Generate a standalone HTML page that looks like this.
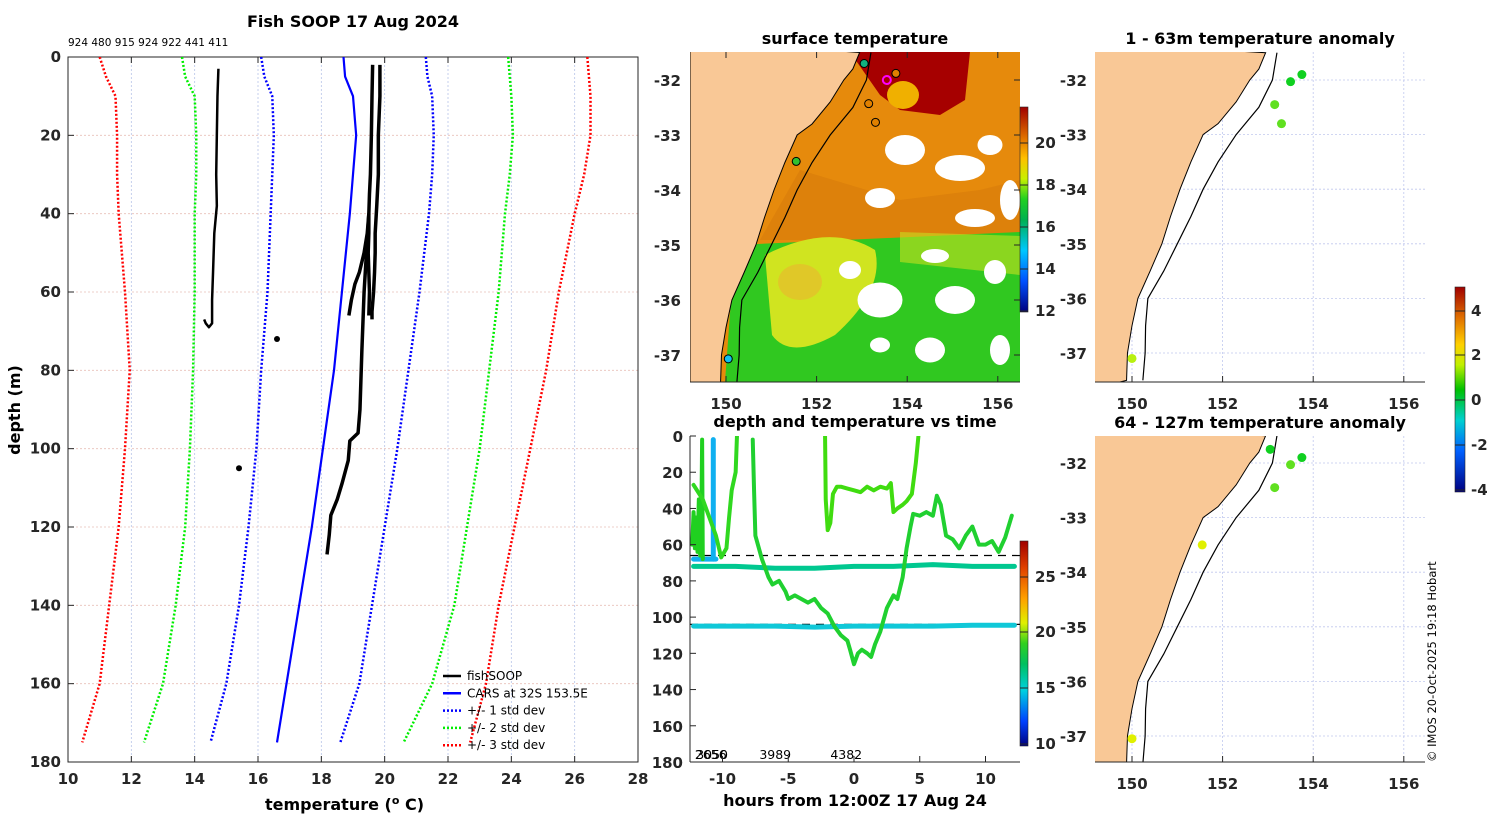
<!DOCTYPE html>
<html><head><meta charset="utf-8"><style>
body{margin:0;background:#fff;}
svg{display:block;font-family:"DejaVu Sans","Liberation Sans",sans-serif;}
.t{font-weight:bold;font-size:16px;fill:#000}
.tk{font-weight:bold;font-size:15px;fill:#262626}
.lg{font-size:12px;fill:#000}
</style></head><body>
<svg id="fig" width="1500" height="820" viewBox="0 0 1500 820">
<defs>
<clipPath id="cpL"><rect x="68" y="57" width="570" height="705"/></clipPath>
<clipPath id="cpM"><rect x="690" y="52" width="330" height="330"/></clipPath>
<clipPath id="cpT"><rect x="690" y="436" width="330" height="326"/></clipPath>
<clipPath id="cpR1"><rect x="1095" y="52" width="330" height="330"/></clipPath>
<clipPath id="cpR2"><rect x="1095" y="436" width="330" height="326"/></clipPath>
<linearGradient id="cbSST" x1="0" y1="1" x2="0" y2="0">
<stop offset="0" stop-color="#00007f"/><stop offset="0.15" stop-color="#0050ff"/><stop offset="0.3" stop-color="#00c8ff"/><stop offset="0.45" stop-color="#00b050"/><stop offset="0.55" stop-color="#20d020"/><stop offset="0.65" stop-color="#c8f000"/><stop offset="0.75" stop-color="#ffc000"/><stop offset="0.85" stop-color="#e07000"/><stop offset="1" stop-color="#a00000"/></linearGradient>
<linearGradient id="cbT" x1="0" y1="1" x2="0" y2="0">
<stop offset="0" stop-color="#00007f"/><stop offset="0.12" stop-color="#0040ff"/><stop offset="0.27" stop-color="#00d0e0"/><stop offset="0.4" stop-color="#00c060"/><stop offset="0.5" stop-color="#30d020"/><stop offset="0.6" stop-color="#e0f000"/><stop offset="0.72" stop-color="#ffa000"/><stop offset="0.87" stop-color="#e04000"/><stop offset="1" stop-color="#a00000"/></linearGradient>
<linearGradient id="cbA" x1="0" y1="1" x2="0" y2="0">
<stop offset="0" stop-color="#00007f"/><stop offset="0.2" stop-color="#0060ff"/><stop offset="0.35" stop-color="#00d0d0"/><stop offset="0.5" stop-color="#00c000"/><stop offset="0.62" stop-color="#c0f000"/><stop offset="0.72" stop-color="#ffd000"/><stop offset="0.85" stop-color="#e07000"/><stop offset="1" stop-color="#a00000"/></linearGradient>
</defs>
<g id="root"></g>
</svg>
<script>
// ---------- profile chart data ----------
const depthLevels=[0,5,10,20,30,40,60,80,100,120,140,160,175];
const carsT=[18.7,18.75,19.0,19.1,19.0,18.9,18.65,18.4,18.05,17.7,17.3,16.9,16.6];
const sd1Lo=[16.1,16.2,16.45,16.5,16.45,16.4,16.3,16.1,15.95,15.7,15.4,15.0,14.5];
const sd1Hi=[21.3,21.35,21.5,21.55,21.5,21.4,21.1,20.75,20.4,20.0,19.6,19.2,18.6];
const sd2Lo=[13.6,13.7,14.0,14.05,14.05,14.0,14.0,13.95,13.85,13.7,13.4,13.0,12.4];
const sd2Hi=[23.9,23.95,24.0,24.05,23.95,23.8,23.6,23.3,23.0,22.6,22.2,21.5,20.6];
const sd3Lo=[11.0,11.2,11.5,11.55,11.55,11.6,11.8,11.95,11.8,11.6,11.3,11.0,10.45];
const sd3Hi=[26.4,26.45,26.5,26.5,26.3,26.0,25.5,25.1,24.6,24.1,23.6,23.2,22.7];
const xTicksL=[10,12,14,16,18,20,22,24,26,28];
const yTicksL=[0,20,40,60,80,100,120,140,160,180];
const prof1D=[3,10,20,30,38,45,55,62,68,69,68,67];
const prof1T=[14.75,14.72,14.7,14.68,14.7,14.62,14.58,14.55,14.55,14.45,14.35,14.3];
const prof2D=[2,10,20,30,35,40,45,50,55,60,66];
const prof2T=[19.62,19.6,19.58,19.55,19.52,19.5,19.5,19.48,19.5,19.52,19.5];
const prof3D=[2,10,20,30,38,45,50,55,60,65,67];
const prof3T=[19.85,19.85,19.8,19.8,19.75,19.7,19.7,19.68,19.65,19.6,19.6];
const prof4D=[40,45,50,55,58,62,66];
const prof4T=[19.5,19.45,19.35,19.2,19.06,18.95,18.87];
const prof5D=[40,60,75,90,96,98,103,109,113,117,122,127];
const prof5T=[19.5,19.35,19.28,19.22,19.16,18.9,18.85,18.65,18.5,18.3,18.25,18.18];
// ---------- time-depth data ----------
const xTicksT=[-10,-5,0,5,10];
const yTicksT=[0,20,40,60,80,100,120,140,160,180];
const trAh=[-7.7,-7.6,-7.5,-7,-6.5,-6.2,-5.7,-5.2,-5,-4.5,-4,-3.5,-3,-2.5,-2,-1.5,-1,-0.5,-0.3,0,0.3,0.6,1,1.3,1.6,2,2.5,3,3.3,3.7,4,4.3,4.5,5,5.5,6,6.3,6.6,7,7.5,8,8.5,9,9.5,10,10.5,11,11.5,12];
const trAd=[2,30,55,68,78,82,80,86,90,88,90,92,90,95,98,105,110,113,118,126,120,118,120,122,115,108,95,88,90,78,62,50,43,44,42,44,33,38,55,57,62,55,50,60,60,58,64,56,44];
const trBh=[-2.2,-2.15,-2.0,-1.8,-1.6,-1.3,-1,-0.5,0,0.5,1,1.5,2,2.5,2.8,3,3.3,3.7,4,4.4,4.7,4.9];
const trBd=[0,35,52,48,32,28,28,29,30,31,28,30,28,29,26,42,40,38,36,32,15,0];
const trCh=[-12.3,-12.2,-12.1,-12.0,-11.9,-11.8,-11.7,-11.6,-11.55,-11.5];
const trCd=[60,42,62,45,64,35,66,40,2,68];
const trDh=[-12.2,-11.5,-11,-10.5,-10.1,-9.7,-9.5,-9.3,-9.0,-8.9];
const trDd=[27,35,45,55,67,62,45,30,20,0];
const teal1D=[72,72,73,73,72,72,71,72,72];
const teal1H=[-12.2,-9,-6,-3,0,3,6,9,12.2];
const teal2D=[105,105,105,105.5,105,105,105,104.5,104.5];
const castLabels=["2656","3050","3989","4382"];
const castHours=[-12.1,-12.0,-7.2,-1.8];
// ---------- anomaly maps ----------
const anomLon1=[153.75,153.5,153.15,153.3,150.0];
const anomLat1=[-31.9,-32.03,-32.45,-32.8,-37.1];
const anomVal1=[0.2,0.3,0.9,0.8,1.6];
const anomLon2=[153.05,153.75,153.5,153.15,151.55,150.0];
const anomLat2=[-31.75,-31.9,-32.03,-32.45,-33.5,-37.05];
const anomVal2=[0.2,0.2,0.5,0.6,2.2,2.0];
const sstLon=[153.05,153.75,153.15,153.3,151.55,150.05];
const sstLat=[-31.7,-31.88,-32.43,-32.77,-33.48,-37.07];
const sstVal=[16.0,21.5,21.5,21.5,17.0,14.8];
const coastLon=[152.95,152.8,152.6,152.3,151.9,151.57,151.3,151.06,150.85,150.66,150.4,150.13,150.0,149.9,149.88];
const coastLat=[-31.5,-31.8,-32.0,-32.4,-32.8,-33.0,-33.5,-34.0,-34.5,-35.0,-35.5,-36.0,-36.5,-37.0,-37.5];
const isoLon=[153.2,153.1,152.8,152.3,151.9,151.57,151.3,151.0,150.7,150.35,150.3,150.29,150.24];
const isoLat=[-31.5,-32.0,-32.5,-33.0,-33.5,-34.0,-34.5,-35.0,-35.5,-36.0,-36.5,-37.0,-37.5];
const lonTicks=[150,152,154,156];
const latTicks=[-32,-33,-34,-35,-36,-37];

const NS="http://www.w3.org/2000/svg";
const root=document.getElementById('root');
function el(tag,attrs,parent){const e=document.createElementNS(NS,tag);for(const k in attrs)e.setAttribute(k,attrs[k]);(parent||root).appendChild(e);return e;}
function txt(s,x,y,cls,anchor,parent){const e=el('text',{x:x,y:y,class:cls,'text-anchor':anchor||'middle'},parent);e.textContent=s;return e;}

// ---- left profile axes
const lx=t=>68+(t-10)*570/18, ly=d=>57+d*705/180;
const gL=el('g',{});


xTicksL.forEach(t=>{el('line',{x1:lx(t),x2:lx(t),y1:57,y2:762,stroke:'#b8c4e8','stroke-width':0.8,'stroke-dasharray':'2,2'},gL);el('line',{x1:lx(t),x2:lx(t),y1:762,y2:756,stroke:'#262626'},gL);el('line',{x1:lx(t),x2:lx(t),y1:57,y2:63,stroke:'#262626'},gL);const e=txt(String(t),lx(t),784,'tk','middle',gL);});
yTicksL.forEach(d=>{el('line',{x1:68,x2:638,y1:ly(d),y2:ly(d),stroke:'#e8c0b8','stroke-width':0.8,'stroke-dasharray':'2,2'},gL);el('line',{x1:68,x2:74,y1:ly(d),y2:ly(d),stroke:'#262626'},gL);const e=txt(String(d),61,ly(d)+5,'tk','end',gL);});
el('rect',{x:68,y:57,width:570,height:705,fill:'none',stroke:'#262626','stroke-width':1},gL);
function profLine(T,D,col,dash,w,name){const p=el('polyline',{points:T.map((t,i)=>lx(t)+','+ly(D[i])).join(' '),fill:'none',stroke:col,'stroke-width':w,'stroke-dasharray':dash||'none','stroke-linejoin':'round','clip-path':'url(#cpL)'},gL);}
profLine(sd3Lo,depthLevels,'#ff0000','2,2',2.5,'sd3-low-line');
profLine(sd3Hi,depthLevels,'#ff0000','2,2',2.5,'sd3-high-line');
profLine(sd2Lo,depthLevels,'#00ee00','2,2',2.5,'sd2-low-line');
profLine(sd2Hi,depthLevels,'#00ee00','2,2',2.5,'sd2-high-line');
profLine(sd1Lo,depthLevels,'#0000ff','2,2',2.5,'sd1-low-line');
profLine(sd1Hi,depthLevels,'#0000ff','2,2',2.5,'sd1-high-line');
profLine(carsT,depthLevels,'#0000ff',null,2.2,'cars-profile');
profLine(prof1T,prof1D,'#000',null,2.5,'fishsoop-profile-1');
profLine(prof2T,prof2D,'#000',null,3.5,'fishsoop-profile-2');
profLine(prof3T,prof3D,'#000',null,3.5,'fishsoop-profile-3');
profLine(prof4T,prof4D,'#000',null,3.5,'fishsoop-profile-4');
profLine(prof5T,prof5D,'#000',null,3.5,'fishsoop-profile-5');
[[16.6,72],[15.4,105]].forEach(p=>{const c=el('circle',{cx:lx(p[0]),cy:ly(p[1]),r:3,fill:'#000'},gL);});
let e;
e=txt('Fish SOOP 17 Aug 2024',353,27,'t','middle');
e=el('text',{x:68,y:46,'font-size':'10.5','fill':'#000'});e.textContent='924 480 915 924 922 441 411';
e=el('text',{x:265,y:810,class:'t'});
e.innerHTML='temperature (<tspan font-size="11" dy="-6">o</tspan><tspan dy="6"> C)</tspan>';
e=el('text',{x:20,y:410,class:'t','text-anchor':'middle',transform:'rotate(-90 20 410)'});e.textContent='depth (m)';
const legItems=[['fishSOOP','#000',null],['CARS at 32S 153.5E','#0000ff',null],['+/- 1 std dev','#0000ff','2,2'],['+/- 2 std dev','#00ee00','2,2'],['+/- 3 std dev','#ff0000','2,2']];
legItems.forEach((it,i)=>{const g=el('g',{},gL);const y=676+i*17.3;el('line',{x1:443,x2:461,y1:y,y2:y,stroke:it[1],'stroke-width':2.5,'stroke-dasharray':it[2]||'none'},g);txt(it[0],467,y+4,'lg','start',g);});

// ---- SST map
const mx=l=>726+(l-150)*45.3, my=a=>80+(-32-a)*55;
const gM=el('g',{});


const cM=el('g',{'clip-path':'url(#cpM)'},gM);
el('rect',{x:690,y:52,width:330,height:330,fill:'#e68a0c'},cM);
el('path',{d:'M850 52 L970 52 L965 100 L940 115 L900 110 L880 95 Z',fill:'#a60000'},cM);
el('ellipse',{cx:903,cy:95,rx:16,ry:14,fill:'#f0b000'},cM);
el('path',{d:'M800 170 L900 200 L980 190 L1020 180 L1020 240 L760 240 Z',fill:'#d4780a',opacity:0.5},cM);
el('path',{d:'M735 245 L1020 232 L1020 382 L725 382 Z',fill:'#30c820'},cM);
el('path',{d:'M765 255 Q830 222 875 250 Q885 290 835 335 Q790 360 772 335 Z',fill:'#d0e420'},cM);
el('ellipse',{cx:800,cy:282,rx:22,ry:18,fill:'#e0c828'},cM);
el('path',{d:'M900 232 L1020 236 L1020 275 L900 262 Z',fill:'#c8e020',opacity:0.6},cM);
[[905,150,40,30],[960,168,50,26],[990,145,25,20],[880,198,30,20],[975,218,40,18],[935,256,28,14],[880,300,45,35],[955,300,40,28],[995,272,22,24],[930,350,30,25],[1000,350,20,30],[850,270,22,18],[880,345,20,15],[1010,200,20,40]].forEach(r=>{const p=el('ellipse',{cx:r[0],cy:r[1],rx:r[2]/2,ry:r[3]/2,fill:'#fff'},cM);});
const landM='M690 40 '+coastLon.map((l,i)=>'L'+mx(l)+' '+my(coastLat[i])).join(' ')+' L690 400 Z';
e=el('path',{d:landM,fill:'#f9c896',stroke:'#000','stroke-width':1},cM);
e=el('polyline',{points:isoLon.map((l,i)=>mx(l)+','+my(isoLat[i])).join(' '),fill:'none',stroke:'#000','stroke-width':1.2},cM);
const sstCol=v=>v<15?'#10c0f0':v<17?'#10b080':v<19?'#30c030':'#e08000';
sstLon.forEach((l,i)=>{const c=el('circle',{cx:mx(l),cy:my(sstLat[i]),r:4,fill:sstCol(sstVal[i]),stroke:'#000','stroke-width':1},cM);});
e=el('circle',{cx:mx(153.55),cy:my(-32.0),r:4,fill:'none',stroke:'#ff00ff','stroke-width':2},cM);
lonTicks.forEach(l=>{el('line',{x1:mx(l),x2:mx(l),y1:382,y2:376,stroke:'#262626'},gM);el('line',{x1:mx(l),x2:mx(l),y1:52,y2:58,stroke:'#262626'},gM);const t=txt(String(l),mx(l),409,'tk','middle',gM);});
latTicks.forEach(a=>{el('line',{x1:1020,x2:1014,y1:my(a),y2:my(a),stroke:'#262626'},gM);const t=txt(String(a),681,my(a)+6,'tk','end',gM);});
el('line',{x1:690,x2:1020,y1:382,y2:382,stroke:'#262626'},gM);
e=txt('surface temperature',855,44,'t','middle');
e=el('rect',{x:1020,y:107,width:8,height:205,fill:'url(#cbSST)',stroke:'#262626','stroke-width':0.6});
[[20,143],[18,185],[16,227],[14,269],[12,311]].forEach(p=>{el('line',{x1:1020,x2:1028,y1:p[1],y2:p[1],stroke:'#262626'});const t=txt(String(p[0]),1035,p[1]+5,'tk','start');});

// ---- time-depth panel
const tx=h=>854+h*13.15, ty=d=>436+d*326/180;
const gT=el('g',{});


const cT=el('g',{'clip-path':'url(#cpT)'},gT);
[66,104].forEach(d=>{const l=el('line',{x1:690,x2:1020,y1:ty(d),y2:ty(d),stroke:'#000','stroke-width':1.2,'stroke-dasharray':'8,6'},cT);});
function tLine(H,D,col,w,name){const p=el('polyline',{points:H.map((h,i)=>tx(h)+','+ty(D[i])).join(' '),fill:'none',stroke:col,'stroke-width':w,'stroke-linejoin':'round','stroke-linecap':'round'},cT);}
tLine(teal1H,teal1D,'#00c890',5,'trace-72m');
tLine(teal1H,teal2D,'#10c8d8',5,'trace-104m');
tLine([-12.2,-10.5],[68,68],'#10b0f0',5,'trace-short-68m');
tLine([-10.7,-10.7],[2,68],'#10b0f0',5,'trace-cyan-vertical');
tLine(trCh,trCd,'#20d020',4,'trace-c');
tLine(trDh,trDd,'#30d820',4,'trace-d');
tLine(trAh,trAd,'#20d030',4,'trace-a');
tLine(trBh,trBd,'#40dc10',4,'trace-b');
castLabels.forEach((s,i)=>{const t=el('text',{x:tx(castHours[i]),y:759,'font-size':'12.5',fill:'#000'},gT);t.textContent=s;});
el('line',{x1:690,x2:690,y1:436,y2:762,stroke:'#262626'},gT);
el('line',{x1:690,x2:1020,y1:762,y2:762,stroke:'#262626'},gT);
xTicksT.forEach(h=>{el('line',{x1:tx(h),x2:tx(h),y1:762,y2:756,stroke:'#262626'},gT);const t=txt(String(h),tx(h),784,'tk','middle',gT);});
yTicksT.forEach(d=>{el('line',{x1:690,x2:696,y1:ty(d),y2:ty(d),stroke:'#262626'},gT);const t=txt(String(d),683,ty(d)+6,'tk','end',gT);});
e=txt('depth and temperature vs time',855,427,'t','middle');
e=txt('hours from 12:00Z 17 Aug 24',855,806,'t','middle');
e=el('rect',{x:1020,y:541,width:8,height:205,fill:'url(#cbT)',stroke:'#262626','stroke-width':0.6});
[[25,577],[20,632],[15,688],[10,744]].forEach(p=>{el('line',{x1:1020,x2:1028,y1:p[1],y2:p[1],stroke:'#262626'});const t=txt(String(p[0]),1035,p[1]+5,'tk','start');});

// ---- anomaly maps
const anomCol=v=>v<0.4?'#10d020':v<1.0?'#60e020':v<1.8?'#b8f010':'#e0f000';
function anomMap(y0,latY,lonA,latA,valA,title,clip,name){
 const ax=l=>1132+(l-150)*45.3, ay=a=>latY+(-32-a)*54.6;
 const g=el('g',{});
 
 
 const yb=y0+(y0<400?330:326);
 lonTicks.forEach(l=>{el('line',{x1:ax(l),x2:ax(l),y1:y0,y2:yb,stroke:'#c0c8ee','stroke-width':0.8,'stroke-dasharray':'2,2'},g);});
 latTicks.forEach(a=>{el('line',{x1:1095,x2:1425,y1:ay(a),y2:ay(a),stroke:'#c0c8ee','stroke-width':0.8,'stroke-dasharray':'2,2'},g);const t=txt(String(a),1087,ay(a)+6,'tk','end',g);});
 const c=el('g',{'clip-path':'url('+clip+')'},g);
 const p=el('path',{d:'M1080 '+(y0-10)+' '+coastLon.map((l,i)=>'L'+ax(l)+' '+ay(coastLat[i])).join(' ')+' L1080 '+(y0+340)+' Z',fill:'#f9c896',stroke:'#000','stroke-width':1},c);
 const q=el('polyline',{points:isoLon.map((l,i)=>ax(l)+','+ay(isoLat[i])).join(' '),fill:'none',stroke:'#000','stroke-width':1.2},c);
 lonA.forEach((l,i)=>{const d=el('circle',{cx:ax(l),cy:ay(latA[i]),r:4.5,fill:anomCol(valA[i])},c);});
 el('line',{x1:1095,x2:1425,y1:yb,y2:yb,stroke:'#262626'},g);
 lonTicks.forEach(l=>{el('line',{x1:ax(l),x2:ax(l),y1:yb,y2:yb-6,stroke:'#262626'},g);const t=txt(String(l),ax(l),yb+27,'tk','middle',g);});
 const t=txt(title,1260,y0-8,'t','middle',g);
}
anomMap(52,80,anomLon1,anomLat1,anomVal1,'1 - 63m temperature anomaly','#cpR1','anomaly-map-shallow');
anomMap(436,463,anomLon2,anomLat2,anomVal2,'64 - 127m temperature anomaly','#cpR2','anomaly-map-deep');
e=el('rect',{x:1455,y:287,width:10,height:205,fill:'url(#cbA)',stroke:'#262626','stroke-width':0.6});
[[4,311],[2,355],[0,400],[-2,445],[-4,490]].forEach(p=>{el('line',{x1:1455,x2:1465,y1:p[1],y2:p[1],stroke:'#262626'});const t=txt(String(p[0]),1471,p[1]+5,'tk','start');});
e=el('text',{x:1436,y:762,'font-size':'11.5',fill:'#000',transform:'rotate(-90 1436 762)'});e.textContent='© IMOS 20-Oct-2025 19:18 Hobart';
</script>
</body></html>
